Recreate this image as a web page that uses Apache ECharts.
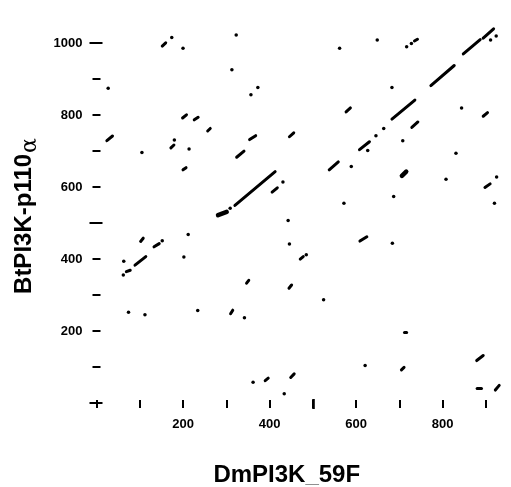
<!DOCTYPE html>
<html><head><meta charset="utf-8">
<script src="https://cdn.jsdelivr.net/npm/echarts@6/dist/echarts.min.js"></script>
<style>html,body{margin:0;padding:0;background:#fff}#c{width:511px;height:487px}</style>
</head><body><div id="c"></div>
<script>
// Axis ticks and labels
const xTicks = [0, 100, 200, 300, 400, 500, 600, 700, 800, 900];
const xMajorTicks = [500];
const xLabels = [200, 400, 600, 800];
const yTicks = [0, 100, 200, 300, 400, 500, 600, 700, 800, 900, 1000];
const yMajorTicks = [0, 500, 1000];
const yLabels = [200, 400, 600, 800, 1000];

// Dot-plot diagonal runs: [x1, y1, x2, y2] (DmPI3K_59F residue, BtPI3K-p110α residue)
const segments = [
  [152, 992, 160, 1001], [199, 792, 208, 801], [226, 787, 235, 794], [24, 729, 37, 742],
  [172, 709, 179, 717], [200, 648, 207, 654], [257, 756, 263, 763], [354, 732, 368, 743],
  [446, 740, 456, 751], [324, 683, 341, 700], [320, 549, 413, 643], [406, 586, 418, 598],
  [577, 809, 587, 820], [683, 789, 736, 842], [608, 704, 631, 726], [538, 648, 559, 670],
  [735, 1006, 742, 1011], [848, 970, 887, 1010], [894, 1014, 918, 1040], [773, 882, 827, 938],
  [894, 797, 904, 807], [729, 766, 743, 781], [898, 599, 910, 609],
  [102, 449, 108, 458], [133, 434, 145, 443], [89, 383, 114, 407], [69, 365, 78, 369],
  [347, 333, 352, 341], [445, 319, 451, 328], [310, 248, 315, 258], [390, 62, 397, 69],
  [449, 71, 457, 81], [609, 450, 625, 462], [471, 400, 478, 407], [705, 92, 711, 99],
  [879, 118, 894, 132], [880, 41, 890, 41], [922, 36, 931, 49], [712, 198, 717, 198]
];
// Dense clusters
const blobs = [
  [281, 522, 301, 531], [706, 631, 716, 643]
];
// Isolated matches: [x, y]
const dots = [
  [174, 1016], [200, 986], [27, 875], [180, 731], [105, 696], [214, 706],
  [323, 1023], [313, 926], [373, 877], [357, 857], [309, 541], [431, 614],
  [649, 1009], [562, 986], [683, 877], [664, 763], [646, 743], [627, 702],
  [708, 729], [589, 657], [687, 574], [572, 555], [717, 990], [728, 999],
  [911, 1009], [924, 1020], [844, 820], [831, 694], [808, 622], [925, 628], [920, 555],
  [152, 451], [212, 468], [63, 394], [62, 356], [202, 406], [74, 252], [112, 245],
  [234, 257], [443, 507], [446, 442], [342, 237], [362, 58], [434, 26], [684, 444],
  [485, 412], [525, 287], [621, 104]
];

const FONT = '"Liberation Sans", Arial, Helvetica, sans-serif';
const chart = echarts.init(document.getElementById('c'), null, {renderer: 'canvas'});

function xAxisDef(pos, ticks, len, width, labels) {
  return {
    type: 'value', min: 0, max: 949, interval: 100, position: pos,
    axisLine: {show: false}, splitLine: {show: false},
    axisTick: {show: true, customValues: ticks, length: len,
      lineStyle: {color: '#000', width: width}},
    axisLabel: {show: !!labels, customValues: labels || [], color: '#000', fontWeight: 'bold',
      fontSize: 13, fontFamily: FONT, margin: 15, formatter: v => String(v)}
  };
}
function yAxisDef(pos, ticks, len, width, labels) {
  return {
    type: 'value', min: 0, max: 1070, interval: 100, position: pos,
    axisLine: {show: false}, splitLine: {show: false},
    axisTick: {show: true, customValues: ticks, length: len,
      lineStyle: {color: '#000', width: width}},
    axisLabel: {show: !!labels, customValues: labels || [], color: '#000', fontWeight: 'bold',
      fontSize: 13, fontFamily: FONT, margin: 14, formatter: v => String(v)}
  };
}

const xb = xAxisDef('bottom', xTicks, 5, 2, xLabels);
xb.name = '{m|DmPI3K}{u|_}{m|59F}';
xb.nameLocation = 'middle';
xb.nameGap = 60;
xb.nameTextStyle = {padding: [0, 30, 0, 0], rich: {
  m: {fontSize: 24, fontWeight: 'bold', fontFamily: FONT, color: '#000'},
  u: {fontSize: 24, fontWeight: 'bold', fontFamily: FONT, color: '#888'}
}};
const yl = yAxisDef('left', yTicks, 4, 2, yLabels);
yl.name = '{m|BtPI3K-p110}{a|α}';
yl.nameLocation = 'middle';
yl.nameGap = 56;
yl.nameTextStyle = {padding: [0, 11, 0, 0], rich: {
  m: {fontSize: 24, fontWeight: 'bold', fontFamily: FONT, color: '#000', verticalAlign: 'top', lineHeight: 28},
  a: {fontSize: 22, fontWeight: 'normal', fontFamily: '"DejaVu Serif", serif', color: '#000', verticalAlign: 'top', lineHeight: 28, padding: [7, 0, 0, 1]}
}};

chart.setOption({
  animation: false,
  backgroundColor: '#fff',
  grid: {left: 96.5, right: 4, top: 18, bottom: 84, containLabel: false, outerBoundsMode: 'none'},
  xAxis: [xb, xAxisDef('top', xTicks, 3, 2),
          xAxisDef('bottom', xMajorTicks, 6, 2.6), xAxisDef('top', xMajorTicks, 4, 2.6)],
  yAxis: [yl, yAxisDef('right', yTicks, 4, 2),
          yAxisDef('left', yMajorTicks, 7, 2), yAxisDef('right', yMajorTicks, 6, 2)],
  series: [
    {type: 'lines', coordinateSystem: 'cartesian2d', silent: true,
      data: segments.map(s => ({coords: [[s[0], s[1]], [s[2], s[3]]]})),
      lineStyle: {color: '#000', width: 3, opacity: 1, curveness: 0, cap: 'round'}},
    {type: 'lines', coordinateSystem: 'cartesian2d', silent: true,
      data: blobs.map(s => ({coords: [[s[0], s[1]], [s[2], s[3]]]})),
      lineStyle: {color: '#000', width: 4.5, opacity: 1, curveness: 0, cap: 'round'}},
    {type: 'scatter', silent: true, data: dots, symbol: 'circle', symbolSize: 3.5,
      itemStyle: {color: '#000', opacity: 1}}
  ]
});
</script></body></html>
